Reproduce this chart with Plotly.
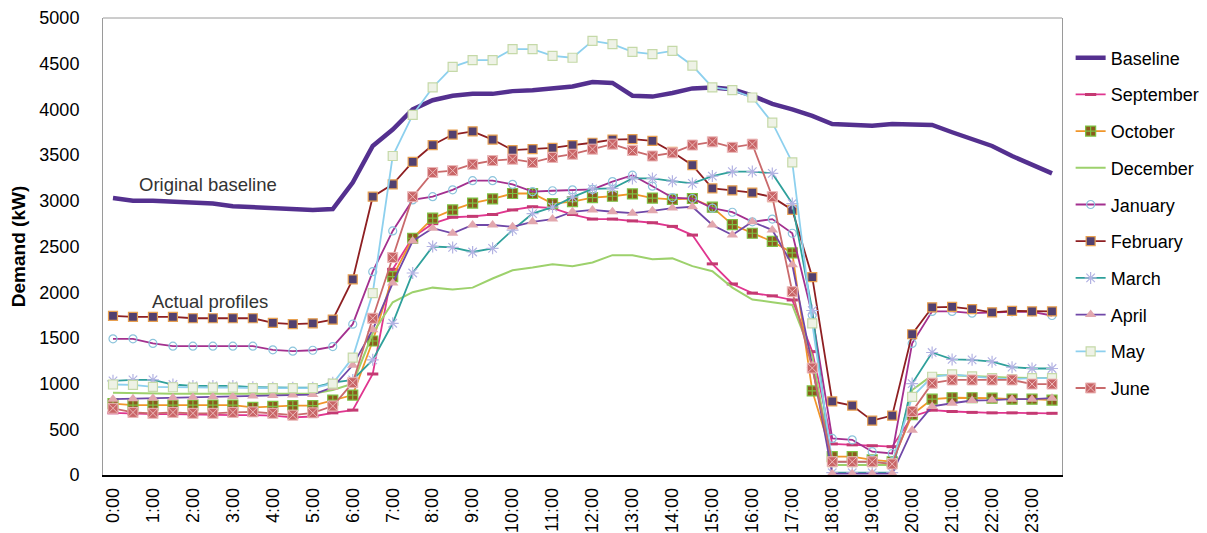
import plotly.graph_objects as go

times = ["0:00","0:30","1:00","1:30","2:00","2:30","3:00","3:30","4:00","4:30","5:00","5:30",
         "6:00","6:30","7:00","7:30","8:00","8:30","9:00","9:30","10:00","10:30","11:00","11:30",
         "12:00","12:30","13:00","13:30","14:00","14:30","15:00","15:30","16:00","16:30","17:00","17:30",
         "18:00","18:30","19:00","19:30","20:00","20:30","21:00","21:30","22:00","22:30","23:00","23:30"]
hour_ticks = ["0:00","1:00","2:00","3:00","4:00","5:00","6:00","7:00","8:00","9:00","10:00","11:00",
              "12:00","13:00","14:00","15:00","16:00","17:00","18:00","19:00","20:00","21:00","22:00","23:00"]
y_ticks = [0, 500, 1000, 1500, 2000, 2500, 3000, 3500, 4000, 4500, 5000]

baseline = [3030,3000,3000,2990,2990,2970,2940,2930,2930,2920,2900,2910,
            3200,3600,3780,4000,4100,4150,4170,4170,4200,4210,4230,4250,
            4300,4290,4150,4140,4180,4230,4240,4220,4150,4060,4000,3930,
            3840,3830,3820,3840,3840,3830,3750,3680,3600,3490,3390,3300]
september = [680,670,665,665,660,660,655,655,650,630,640,680,
             710,1105,2250,2600,2750,2820,2830,2850,2900,2935,2920,2850,
             2800,2800,2780,2760,2720,2625,2310,2090,1990,1960,1915,1350,
             340,330,320,310,640,710,695,685,680,680,675,675]
october = [780,765,765,765,765,765,765,740,750,760,760,820,
           875,1466,2170,2590,2810,2900,2975,3020,3080,3080,2970,2990,
           3035,3050,3075,3030,3015,3025,2930,2740,2645,2555,2430,920,
           200,200,165,145,660,830,845,845,840,830,830,820]
december = [900,895,895,890,890,890,890,890,890,890,890,930,
            1000,1550,1890,2000,2050,2030,2050,2150,2240,2270,2305,2285,
            2325,2405,2405,2360,2370,2285,2230,2050,1920,1890,1860,1300,
            110,110,110,110,930,1090,1090,1080,1070,1065,1060,1060]
january = [1490,1490,1440,1410,1410,1410,1410,1410,1370,1355,1365,1405,
           1650,2225,2670,3010,3045,3120,3220,3220,3180,3100,3110,3120,
           3125,3210,3280,3160,3035,3025,2920,2875,2770,2800,2645,1750,
           400,385,255,235,1440,1790,1790,1770,1780,1785,1785,1745]
february = [1740,1730,1730,1730,1715,1715,1715,1715,1665,1650,1660,1700,
            2140,3045,3180,3425,3610,3725,3760,3670,3555,3565,3580,3610,
            3635,3670,3675,3655,3535,3390,3135,3115,3090,3040,2900,2165,
            805,760,595,650,1540,1835,1840,1815,1780,1795,1790,1790]
march = [1030,1040,1040,990,975,975,975,960,955,955,955,1010,
         1040,1260,1660,2210,2500,2490,2440,2480,2680,2860,2930,3040,
         3130,3135,3245,3245,3215,3190,3270,3320,3320,3300,2970,1800,
         25,25,25,25,1000,1340,1265,1260,1240,1180,1165,1165]
april = [830,835,840,845,850,855,860,865,870,875,880,960,
         1200,1590,2100,2560,2700,2645,2735,2735,2715,2770,2800,2880,
         2900,2880,2865,2890,2920,2935,2735,2625,2770,2680,2300,1200,
         15,15,15,15,490,750,785,815,820,830,830,840]
may = [990,985,965,960,955,955,955,950,950,950,950,1000,
       1285,1990,3490,3940,4240,4465,4540,4540,4660,4660,4585,4565,
       4750,4715,4630,4605,4640,4480,4240,4210,4130,3855,3420,1660,
       140,140,140,130,855,1075,1100,1080,1060,1050,1060,1060]
june = [730,685,675,685,675,675,685,690,675,655,680,755,
        1010,1715,2380,3045,3310,3330,3400,3440,3455,3420,3475,3510,
        3565,3620,3550,3490,3525,3610,3645,3585,3620,3045,2005,1170,
        145,145,145,120,695,1005,1040,1040,1040,1040,995,995]

FONT = "Arial, Liberation Sans, sans-serif"

fig = go.Figure()

def add(name, y, line_color, width=1.8, marker=None):
    mode = "lines+markers" if marker else "lines"
    fig.add_trace(go.Scatter(
        x=times, y=y, name=name, mode=mode, legendgroup=name,
        line=dict(color=line_color, width=width),
        marker=marker if marker else None,
    ))

add("Baseline", baseline, "#54308F", width=4.5)
add("September", september, "#E0358F",
    marker=dict(symbol="line-ew", size=8, line=dict(color="#C43A72", width=3)))
add("October", october, "#F0962A",
    marker=dict(symbol="square-cross", size=10, color="#8B5A1E", line=dict(color="#7DC142", width=1.2)))
add("December", december, "#9DD16C", width=2)
add("January", january, "#A3308F",
    marker=dict(symbol="circle-open", size=8, color="#8CC4DC", line=dict(width=1.2)))
add("February", february, "#8E1F22",
    marker=dict(symbol="square", size=9, color="#52406F", line=dict(color="#E8A050", width=1.2)))
add("March", march, "#2FA09B",
    marker=dict(symbol="asterisk-open", size=10, color="#B3B3E3", line=dict(width=1.2)))
add("April", april, "#7048A8",
    marker=dict(symbol="triangle-up", size=10, color="#E2A7AE", line=dict(width=0)))
add("May", may, "#8DD0EE",
    marker=dict(symbol="square", size=9, color="#EEF2E6", line=dict(color="#C5D9A8", width=1.2)))
add("June", june, "#C96A6C",
    marker=dict(symbol="square-x", size=10, color="#C96567", line=dict(color="#EBB8B8", width=1)))

fig.add_annotation(x=4.75, y=3173, xref="x", yref="y", text="Original baseline",
                   showarrow=False, font=dict(family=FONT, size=18.5, color="#333333"))
fig.add_annotation(x=4.85, y=1893, xref="x", yref="y", text="Actual profiles",
                   showarrow=False, font=dict(family=FONT, size=18.5, color="#333333"))

# top border of plot area
fig.add_shape(type="line", xref="paper", yref="paper", x0=0, x1=1, y0=1, y1=1,
              line=dict(color="#9A9A9A", width=1))

fig.update_layout(
    width=1207, height=533,
    margin=dict(l=103, r=145, t=18, b=58, autoexpand=False),
    paper_bgcolor="white", plot_bgcolor="white",
    font=dict(family=FONT, size=18, color="#000000"),
    legend=dict(x=1.009, xanchor="left", y=0.953, yanchor="top",
                font=dict(family=FONT, size=18, color="#000000"),
                tracegroupgap=10.3, itemwidth=30, bgcolor="rgba(0,0,0,0)"),
    showlegend=True,
)
fig.update_xaxes(
    type="category", categoryorder="array", categoryarray=times,
    tickmode="array", tickvals=hour_ticks, ticktext=hour_ticks,
    tickangle=-90, showgrid=False, zeroline=False, automargin=False,
    showline=True, linecolor="#000000", linewidth=1.5,
    ticks="", ticklabelstandoff=4,
    tickfont=dict(family=FONT, size=18, color="#000000"),
    range=[-0.5, 47.5],
)
fig.update_yaxes(
    range=[0, 5000], tickmode="array", tickvals=y_ticks,
    showgrid=False, zeroline=False, automargin=False,
    showline=True, linecolor="#9A9A9A", linewidth=1, mirror=True,
    ticks="", ticklabelstandoff=19,
    tickfont=dict(family=FONT, size=18, color="#000000"),
    title=dict(text="<b>Demand (kW)</b>", standoff=8,
               font=dict(family=FONT, size=19, color="#000000")),
)

fig.write_html("out.html", config={"displayModeBar": False},
               post_script="document.body.style.margin='0';document.body.style.overflow='hidden';")
